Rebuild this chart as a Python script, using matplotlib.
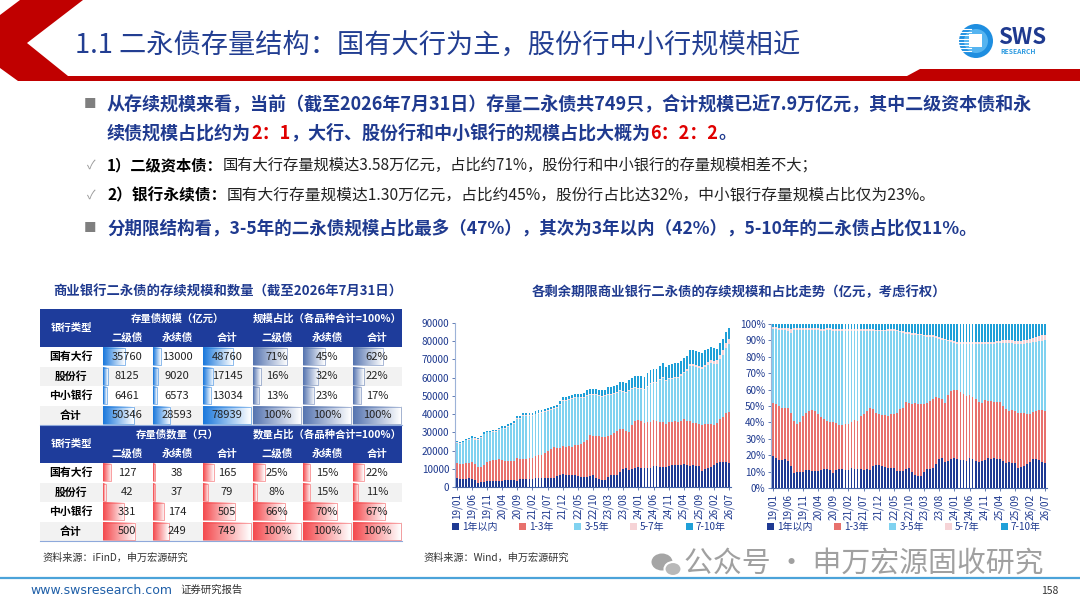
import numpy as np
import pandas as pd
import matplotlib
matplotlib.use('Agg')
import matplotlib.pyplot as plt
from matplotlib.patches import Polygon, Rectangle, Circle, Ellipse
from matplotlib.colors import LinearSegmentedColormap

plt.rcParams['font.family'] = ['Noto Sans CJK SC', 'DejaVu Sans']

NAVY = '#1F3A8F'
RED = '#E00000'

# 月份 19/01 - 26/07
months = [p.strftime('%y/%m') for p in pd.period_range('2019-01', '2026-07', freq='M')]

# 各期限占比 (%)，右图读数
share_1y = [19.5, 18, 17, 17, 17.5, 16.5, 13.5, 9, 9.5, 9.5,
            10, 11, 11, 10.5, 10.5, 10.5, 11, 11.5, 11.5, 11,
            9, 11, 11.5, 11.5, 11, 11, 12, 11.5, 11.5, 11.5,
            11, 11.5, 11, 13.5, 14, 14, 13.5, 13, 12.5, 12.5,
            12, 10.5, 10.5, 10.5, 11.5, 12.5, 9.5, 8, 7.5, 7.5,
            10, 11.5, 11.5, 12, 14.5, 17.5, 18.5, 16, 16.5, 17.5,
            18, 17.5, 17, 17, 16.5, 18, 17.5, 16.5, 16, 16.5,
            17, 18, 17.5, 18, 17.5, 17.5, 16.5, 15.5, 16, 15.5,
            15.5, 12, 13, 13.5, 14.5, 16, 17.5, 17.5, 17, 16, 15]
share_1_3y = [32.5, 33, 33, 32, 31, 32.5, 32.5, 32, 29.5, 30.5,
              34, 35, 36, 37, 36.5, 34.5, 32, 30.5, 29.5, 29,
              31.5, 28.5, 27, 27, 28, 28, 28.5, 30, 29.5, 32.5,
              34, 35.5, 38, 34.5, 32, 31, 31, 31.5, 31.5, 32.5,
              33, 35.5, 37.5, 38.5, 41, 39.5, 42, 44, 44, 44,
              41.5, 40.5, 41.5, 42.5, 41, 37.5, 35.5, 36, 40.5, 41.5,
              42, 42, 41.5, 40.5, 39.5, 38.5, 38, 37.5, 36.5, 35.5,
              36.5, 35, 35.5, 34.5, 35, 35, 33.5, 32.5, 31, 32,
              31.5, 34, 33, 32, 30.5, 29, 29, 29.5, 30.5, 31.5, 32]
share_3_5y = [45, 46, 46.5, 47.5, 48, 47, 48.5, 55.5, 57.5, 56.5,
              52.5, 50.5, 49.5, 49, 49.5, 51.5, 52.5, 54, 55.5, 56.5,
              55.5, 56.5, 57.5, 57.5, 57, 57, 55.5, 54.5, 55, 52,
              51, 49, 47, 48, 49.5, 50.5, 51, 51, 52, 51,
              51, 49.5, 47, 45.5, 41.5, 42, 42, 41.5, 41.5, 41.5,
              41, 40, 39, 37.5, 36, 36, 36.5, 38, 32.5, 30,
              28.5, 28.5, 29.5, 30.5, 32, 31.5, 32.5, 34, 35.5, 36,
              34.5, 35, 35, 35.5, 36, 36, 38.5, 40.5, 41.5, 41,
              41, 42, 42, 42.5, 43.5, 43.5, 42.5, 42, 42, 42, 43]
share_5_7y = [1, 1, 1, 1, 1, 1.5, 2.5, 1, 1, 1,
              1, 1, 1, 1, 1, 1, 1.5, 1, 1, 1,
              1, 1, 1, 1, 1, 1, 1, 1, 1, 1,
              1, 1, 1, 1, 1, 1, 1, 1, 1, 1,
              1, 1, 1, 1, 1, 1, 1, 1, 1, 1,
              1, 1, 1, 1, 1, 1, 1, 1, 1, 1,
              1, 1, 1, 1, 1, 1, 1, 1, 1, 1,
              1, 1, 1, 1, 1, 1, 1.5, 1.5, 1.5, 1.5,
              1.5, 1.5, 1.5, 2, 2, 2.5, 2.5, 3, 3, 3.5, 3.5]
share_7_10y = [2, 2, 2.5, 2.5, 2.5, 2.5, 3, 2.5, 2.5, 2.5,
               2.5, 2.5, 2.5, 2.5, 2.5, 2.5, 3, 3, 2.5, 2.5,
               3, 3, 3, 3, 3, 3, 3, 3, 3, 3,
               3, 3, 3, 3, 3.5, 3.5, 3.5, 3.5, 3, 3,
               3, 3.5, 4, 4.5, 5, 5, 5.5, 5.5, 6, 6,
               6.5, 7, 7, 7, 7.5, 8, 8.5, 9, 9.5, 10,
               10.5, 11, 11, 11, 11, 11, 11, 11, 11, 11,
               11, 11, 11, 11, 10.5, 10.5, 10, 10, 10, 10,
               10.5, 10.5, 10.5, 10, 9.5, 9, 8.5, 8, 7.5, 7, 6.5]

# 存续规模合计 (亿元)，左图读数
total_amt_ts = [25000, 24500, 25500, 26500, 27000, 27800, 27500, 27000, 28000, 30000,
                31000, 31000, 31500, 31500, 32500, 33300, 33500, 34500, 35000, 36000,
                38800, 39000, 40500, 40500, 40500, 40500, 41500, 42000, 42500, 43000,
                43500, 44000, 44500, 45000, 47000, 49400, 49500, 50000, 50500, 51000,
                51200, 51000, 51500, 53000, 54000, 53700, 54000, 53500, 53000, 53500,
                54800, 55000, 55500, 56000, 57500, 57400, 57000, 58500, 60000, 61000,
                61000, 61000, 60500, 62500, 64000, 64700, 65000, 66500, 68000, 66000,
                67100, 67500, 68000, 68000, 69000, 70800, 72000, 75000, 75000, 74500,
                73900, 73500, 75000, 76000, 77000, 76200, 76000, 79000, 81000, 85000, 87000]

series_names = ['1年以内', '1-3年', '3-5年', '5-7年', '7-10年']
series_colors = ['#1F3A93', '#E8716D', '#80D2F0', '#F6D3D6', '#1FA0D8']

# 表格数据
bank_types = ['国有大行', '股份行', '中小银行', '合计']
tier2_amt = [35760, 8125, 6461, 50346]
perp_amt = [13000, 9020, 6573, 28593]
sum_amt = [48760, 17145, 13034, 78939]
tier2_amt_pct = [71, 16, 13, 100]
perp_amt_pct = [45, 32, 23, 100]
sum_amt_pct = [62, 22, 17, 100]
tier2_cnt = [127, 42, 331, 500]
perp_cnt = [38, 37, 174, 249]
sum_cnt = [165, 79, 505, 749]
tier2_cnt_pct = [25, 8, 66, 100]
perp_cnt_pct = [15, 15, 70, 100]
sum_cnt_pct = [22, 11, 67, 100]

fig = plt.figure(figsize=(10.8, 6.08), dpi=100)
bg = fig.add_axes([0, 0, 1, 1])
bg.set_autoscale_on(False)
bg.set_xlim(0, 1080)
bg.set_ylim(608, 0)
bg.axis('off')
renderer = fig.canvas.get_renderer()

# 页眉
bg.add_patch(Polygon([(20, 0), (83, 0), (27, 43), (68, 76), (907, 76), (920, 69), (1080, 69),
                      (1080, 81), (18, 81), (0, 68), (0, 15)], closed=True, fc='#C00000', ec='none'))
bg.text(75, 45, '1.1 二永债存量结构：国有大行为主，股份行中小行规模相近', fontsize=19.6,
        color='#223E92', va='center', ha='left')

# logo
bg.add_patch(Circle((976, 41), 17, fc='#1E8EE0', ec='none'))
bg.add_patch(Circle((976, 41), 12, fc='#55B4F0', ec='none'))
for yy in np.arange(29, 54, 3.2):
    bg.plot([959, 971], [yy, yy], color='white', lw=0.8)
bg.add_patch(Rectangle((969, 34), 13, 13, fc='white', ec='none'))
bg.text(998, 38, 'SWS', fontsize=16, fontweight='bold', color='#1F3A8F', va='center', ha='left')
bg.text(1000, 51, 'RESEARCH', fontsize=4.8, fontweight='bold', color='#2E9BE0', va='center', ha='left')


def draw_runs(x, y, parts, size):
    for s, color, weight in parts:
        t = bg.text(x, y, s, color=color, fontsize=size, fontweight=weight, va='center', ha='left')
        x += t.get_window_extent(renderer=renderer).width


# 正文要点
bg.text(84, 105, '■', fontsize=9, color='#7F7F7F', va='center')
draw_runs(107, 105, [('从存续规模来看，当前（截至2026年7月31日）存量二永债共749只，合计规模已近7.9万亿元，其中二级资本债和永', NAVY, 'bold')], 13)
draw_runs(107, 133, [('续债规模占比约为', NAVY, 'bold'), ('2：1', RED, 'bold'),
                     ('，大行、股份行和中小银行的规模占比大概为', NAVY, 'bold'), ('6：2：2', RED, 'bold'),
                     ('。', NAVY, 'bold')], 13)
bg.text(87, 165, '✓', fontsize=9, color='#9A9A9A', va='center')
draw_runs(107, 165, [('1）二级资本债：', 'black', 'bold'),
                     ('国有大行存量规模达3.58万亿元，占比约71%，股份行和中小银行的存量规模相差不大；', '#222222', 'normal')], 11)
bg.text(87, 195, '✓', fontsize=9, color='#9A9A9A', va='center')
draw_runs(107, 195, [('2）银行永续债：', 'black', 'bold'),
                     ('国有大行存量规模达1.30万亿元，占比约45%，股份行占比达32%，中小银行存量规模占比仅为23%。', '#222222', 'normal')], 11.3)
bg.text(84, 229, '■', fontsize=9, color='#7F7F7F', va='center')
draw_runs(107, 229, [('分期限结构看，3-5年的二永债规模占比最多（47%），其次为3年以内（42%），5-10年的二永债占比仅11%。', NAVY, 'bold')], 12.6)

# 表格
bg.text(228, 292, '商业银行二永债的存续规模和数量（截至2026年7月31日）', fontsize=9.6,
        fontweight='bold', color=NAVY, ha='center', va='center')
col_x = [40, 102, 152, 202, 252, 302, 352, 402]
HDR = '#1E3C9B'


def grad_bar(x0, x1, y0, y1, c0, c1):
    cmap = LinearSegmentedColormap.from_list('g', [c0, c1])
    bg.imshow(np.linspace(0, 1, 64).reshape(1, -1), cmap=cmap, extent=(x0, x1, y1, y0),
              aspect='auto', interpolation='bilinear', zorder=3)
    bg.add_patch(Rectangle((x0, y0), x1 - x0, y1 - y0, fc='none', ec=c0, lw=0.5, alpha=0.7, zorder=4))


def draw_table(top, head1, head2, cols, amt_color, pct_color):
    bg.add_patch(Rectangle((col_x[0], top), col_x[-1] - col_x[0], 38, fc=HDR, ec='none', zorder=2))
    bg.text((col_x[0] + col_x[1]) / 2, top + 19, '银行类型', color='white', fontsize=7.5,
            fontweight='bold', ha='center', va='center', zorder=5)
    bg.text((col_x[1] + col_x[4]) / 2, top + 9.5, head1, color='white', fontsize=7.5,
            fontweight='bold', ha='center', va='center', zorder=5)
    bg.text((col_x[4] + col_x[7]) / 2, top + 9.5, head2, color='white', fontsize=7.5,
            fontweight='bold', ha='center', va='center', zorder=5)
    for j, lab in enumerate(['二级债', '永续债', '合计'] * 2):
        bg.text((col_x[j + 1] + col_x[j + 2]) / 2, top + 28.5, lab, color='white', fontsize=7.5,
                fontweight='bold', ha='center', va='center', zorder=5)
    rh = 19.5
    amt_max = max(max(c) for c in cols[:3])
    for i, name in enumerate(bank_types):
        y0 = top + 38 + i * rh
        fc = '#F2F2F2' if i % 2 == 1 else 'white'
        bg.add_patch(Rectangle((col_x[0], y0), col_x[-1] - col_x[0], rh, fc=fc, ec='none', zorder=1))
        bg.text((col_x[0] + col_x[1]) / 2, y0 + rh / 2, name, fontsize=7.8, fontweight='bold',
                color='black', ha='center', va='center', zorder=5)
        for j, col in enumerate(cols):
            x0 = col_x[j + 1] + 1
            full = col_x[j + 2] - col_x[j + 1] - 2
            if j < 3:
                frac = col[i] / amt_max
                c0 = amt_color
                txt = f'{col[i]}'
            else:
                frac = col[i] / 100
                c0 = pct_color
                txt = f'{col[i]}%'
            grad_bar(x0, x0 + full * frac, y0 + 1.2, y0 + rh - 1.2, c0, '#FFFFFF')
            bg.text(col_x[j + 1] + 25, y0 + rh / 2, txt, fontsize=8, color='#222222',
                    ha='center', va='center', zorder=5)
    bg.plot([col_x[0], col_x[-1]], [top + 38 + 4 * rh, top + 38 + 4 * rh], color='#8EA9DB', lw=0.8, zorder=5)


draw_table(309, '存量债规模（亿元）', '规模占比（各品种合计=100%）',
           [tier2_amt, perp_amt, sum_amt, tier2_amt_pct, perp_amt_pct, sum_amt_pct],
           '#1A78DC', '#5574B0')
draw_table(425, '存量债数量（只）', '数量占比（各品种合计=100%）',
           [tier2_cnt, perp_cnt, sum_cnt, tier2_cnt_pct, perp_cnt_pct, sum_cnt_pct],
           '#F44A4E', '#F44A4E')

# 右侧图表
bg.text(739, 292, '各剩余期限商业银行二永债的存续规模和占比走势（亿元，考虑行权）', fontsize=9.6,
        fontweight='bold', color=NAVY, ha='center', va='center')

x = np.arange(len(months))
shares = [np.array(s, dtype=float) for s in [share_1y, share_1_3y, share_3_5y, share_5_7y, share_7_10y]]
totals = np.array(total_amt_ts, dtype=float)


def style_axis(ax):
    for sp in ['top', 'right']:
        ax.spines[sp].set_visible(False)
    ax.spines['left'].set_color('#9DB3D8')
    ax.spines['bottom'].set_color('#4A68A8')
    ax.set_xlim(-0.6, len(months) - 0.4)
    ax.set_xticks(x[::5])
    ax.set_xticklabels(months[::5], rotation=90, fontsize=7, color=NAVY)
    ax.tick_params(axis='both', length=2, width=0.6, colors='#4A68A8', labelcolor=NAVY, labelsize=7.2, pad=2)
    ax.set_facecolor('none')


def draw_legend(ax, cx):
    handles = [Rectangle((0, 0), 1, 1, fc=c, ec='none') for c in series_colors]
    ax.legend(handles, series_names, loc='center', bbox_to_anchor=(cx / 1080, 1 - 527 / 608),
              bbox_transform=fig.transFigure, ncol=5, frameon=False, fontsize=7.2,
              handlelength=0.7, handleheight=0.7, handletextpad=0.3, columnspacing=2.1,
              labelcolor=NAVY)


ax1 = fig.add_axes([455 / 1080, 1 - 487 / 608, 276 / 1080, 164 / 608])
bottom = np.zeros(len(x))
for s, c in zip(shares, series_colors):
    v = totals * s / 100
    ax1.bar(x, v, 0.62, bottom=bottom, color=c, linewidth=0)
    bottom += v
style_axis(ax1)
ax1.set_ylim(0, 90000)
ax1.set_yticks(np.arange(0, 90001, 10000))
ax1.set_yticklabels([f'{v}' for v in range(0, 90001, 10000)])
draw_legend(ax1, 589)

ax2 = fig.add_axes([771 / 1080, 1 - 488 / 608, 276 / 1080, 164 / 608])
bottom = np.zeros(len(x))
for s, c in zip(shares, series_colors):
    ax2.bar(x, s, 0.62, bottom=bottom, color=c, linewidth=0)
    bottom += s
style_axis(ax2)
ax2.set_ylim(0, 100)
ax2.set_yticks(np.arange(0, 101, 10))
ax2.set_yticklabels([f'{v}%' for v in range(0, 101, 10)])
draw_legend(ax2, 904)

# 资料来源
bg.text(42, 558, '资料来源：iFinD，申万宏源研究', fontsize=7.3, color='#333333', va='center')
bg.text(423, 558, '资料来源：Wind，申万宏源研究', fontsize=7.3, color='#333333', va='center')

# 水印
bg.add_patch(Ellipse((662, 562), 21, 17, fc='#A5A5A5', ec='none', zorder=6))
bg.add_patch(Ellipse((673, 569), 17, 14, fc='#B8B8B8', ec='white', lw=1.5, zorder=7))
bg.text(684, 565, '公众号 · 申万宏源固收研究', fontsize=20.8, color='#A0A0A0', va='center', ha='left', zorder=7)

# 页脚
bg.plot([0, 1080], [578, 578], color='#4BA3D9', lw=1.6)
bg.text(30, 591, 'www.swsresearch.com', fontsize=9, color='#1F5FA8', va='center', family=['Liberation Sans Narrow', 'DejaVu Sans'])
bg.text(180, 590, '证券研究报告', fontsize=7.5, color='#333333', va='center')
bg.text(1058, 591, '158', fontsize=7.5, color='#333333', va='center', ha='right')

fig.savefig('out.png', dpi=100)
